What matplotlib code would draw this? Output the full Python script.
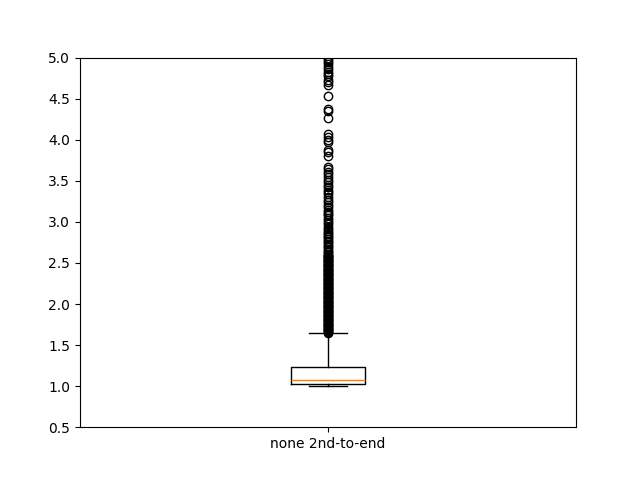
import matplotlib
matplotlib.use("Agg")
import matplotlib.pyplot as plt

label = "none 2nd-to-end"
median = 1.071
q1 = 1.022
q3 = 1.237
whisker_low = 1.002
whisker_high = 1.643
outliers_sparse = [
    4.99, 4.97, 4.95, 4.92, 4.89, 4.86, 4.83, 4.80, 4.77, 4.73, 4.70, 4.67,
    4.53, 4.38, 4.35, 4.27, 4.07, 4.03, 4.00, 3.97, 3.88, 3.85, 3.80, 3.67,
    3.64, 3.61, 3.58, 3.55, 3.51, 3.48, 3.45, 3.42, 3.39, 3.36, 3.34, 3.30,
    3.27, 3.24, 3.21, 3.18, 3.15, 3.12, 3.10, 3.08, 3.05, 3.02, 3.00, 2.97,
    2.94, 2.91, 2.89, 2.87, 2.85, 2.83, 2.81, 2.79, 2.77, 2.75, 2.73, 2.71,
    2.69, 2.67, 2.65, 2.63, 2.61,
]
outliers_dense = [
    2.60, 2.59, 2.58, 2.57, 2.56, 2.55, 2.54, 2.53, 2.52, 2.51, 2.50, 2.49,
    2.48, 2.47, 2.46, 2.45, 2.44, 2.43, 2.42, 2.41, 2.40, 2.39, 2.38, 2.37,
    2.36, 2.35, 2.34, 2.33, 2.32, 2.31, 2.30, 2.29, 2.28, 2.27, 2.26, 2.25,
    2.24, 2.23, 2.22, 2.21, 2.20, 2.19, 2.18, 2.17, 2.16, 2.15, 2.14, 2.13,
    2.12, 2.11, 2.10, 2.09, 2.08, 2.07, 2.06, 2.05, 2.04, 2.03, 2.02, 2.01,
    2.00, 1.99, 1.98, 1.97, 1.96, 1.95, 1.94, 1.93, 1.92, 1.91, 1.90, 1.89,
    1.88, 1.87, 1.86, 1.85, 1.84, 1.83, 1.82, 1.81, 1.80, 1.79, 1.78, 1.77,
    1.76, 1.75, 1.74, 1.73, 1.72, 1.71, 1.70, 1.69, 1.68, 1.67, 1.66, 1.65,
]

stats = [{
    "label": label,
    "med": median,
    "q1": q1,
    "q3": q3,
    "whislo": whisker_low,
    "whishi": whisker_high,
    "fliers": outliers_sparse + outliers_dense,
}]

fig, ax = plt.subplots(figsize=(6.4, 4.8), dpi=100)
ax.bxp(stats, widths=0.15)
ax.set_ylim(0.5, 5.0)
fig.savefig("out.png")
